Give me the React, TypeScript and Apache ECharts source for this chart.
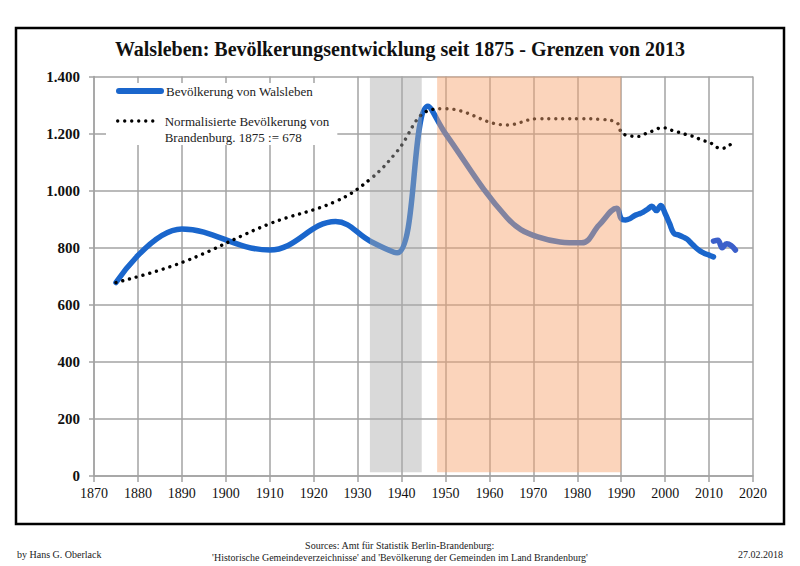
import React, { useEffect, useRef } from "react";
import * as echarts from "echarts";

// Walsleben population (main series, old counts up to 2011)
const popYears = [1875, 1890, 1910, 1925, 1933, 1939, 1946, 1950, 1964, 1971, 1981, 1985, 1989,
  1990, 1991, 1992, 1993, 1994, 1995, 1996, 1997, 1998, 1999, 2000, 2001, 2002, 2003, 2004, 2005,
  2006, 2007, 2008, 2009, 2010, 2011];
const popValues = [678, 866, 792, 892, 822, 782, 1296, 1200, 905, 838, 817, 880, 938,
  902, 897, 902, 912, 918, 925, 935, 945, 930, 948, 920, 885, 850, 845, 838, 830,
  815, 800, 788, 780, 774, 768];

// Walsleben population after the 2011 census
const popYears2 = [2011, 2012, 2013, 2014, 2015, 2016];
const popValues2 = [823, 826, 800, 814, 808, 792];

// Normalised population of Brandenburg (1875 := 678)
const bbYears = [1875, 1890, 1910, 1925, 1933, 1939, 1946, 1950, 1964, 1971, 1981, 1985, 1989,
  1990, 1991, 1992, 1993, 1994, 1995, 1996, 1997, 1998, 1999, 2000, 2001, 2002, 2003, 2004, 2005,
  2006, 2007, 2008, 2009, 2010, 2011, 2012, 2013, 2014, 2015, 2016];
const bbValues = [678, 748, 884, 962, 1042, 1138, 1280, 1287, 1230, 1252, 1252, 1250, 1238,
  1203, 1195, 1192, 1190, 1190, 1196, 1203, 1208, 1215, 1220, 1220, 1214, 1209, 1205, 1200, 1196,
  1192, 1187, 1179, 1174, 1170, 1161, 1150, 1148, 1153, 1163, 1171];

// Shaded eras
const nsEra = [1932.8, 1944.6];
const gdrEra = [1948.1, 1990];

const nameWals = "Bevölkerung von Walsleben";
const nameBB = "Normalisierte Bevölkerung von Brandenburg. 1875 := 678";
const titleText = "Walsleben: Bevölkerungsentwicklung seit 1875 - Grenzen von 2013";
const sourceLine1 = "Sources: Amt für Statistik Berlin-Brandenburg:";
const sourceLine2 = "'Historische Gemeindeverzeichnisse' and 'Bevölkerung der Gemeinden im Land Brandenburg'";
const author = "by Hans G. Oberlack";
const dateText = "27.02.2018";

const FONT = "'Liberation Serif', 'DejaVu Serif', serif";

const zip = (xs: number[], ys: number[]) => xs.map((x, i) => [x, ys[i]]);

const fmtThousands = (v: number) =>
  v >= 1000 ? `${Math.floor(v / 1000)}.${String(v % 1000).padStart(3, "0")}` : String(v);

export default function App() {
  const ref = useRef<HTMLDivElement>(null);

  useEffect(() => {
    if (!ref.current) return;
    const chart = echarts.init(ref.current, undefined, { renderer: "svg" });
    const gridColor = "#a3a3a3";
    const option: any = {
      animation: false,
      backgroundColor: "#ffffff",
      title: {
        text: titleText,
        left: "center",
        top: 34,
        textStyle: { fontFamily: FONT, fontWeight: "bold", fontSize: 20, color: "#111" },
      },
      grid: { left: 94, right: 47, top: 76.5, bottom: 90, containLabel: false },
      legend: [
        {
          data: [nameWals],
          orient: "vertical",
          left: 106,
          top: 83,
          padding: [0, 8, 0, 10],
          itemWidth: 42,
          itemHeight: 16,
          itemGap: 0,
          selectedMode: false,
          backgroundColor: "#ffffff",
          textStyle: { fontFamily: FONT, fontSize: 13, color: "#222", lineHeight: 16 },
          itemStyle: { opacity: 0 },
          lineStyle: { width: 6, cap: "round", color: "#1a66cc", type: "solid" },
        },
        {
          data: [nameBB],
          orient: "vertical",
          left: 106,
          top: 97,
          padding: [0, 8, 0, 10],
          itemWidth: 42,
          itemHeight: 16,
          itemGap: 0,
          selectedMode: false,
          backgroundColor: "#ffffff",
          formatter: () => "\nNormalisierte Bevölkerung von\nBrandenburg. 1875 := 678",
          textStyle: { fontFamily: FONT, fontSize: 13, color: "#222", lineHeight: 16 },
          itemStyle: { opacity: 0 },
          lineStyle: { width: 3.4, cap: "round", color: "#000", type: [0.01, 7] },
        },
      ],
      xAxis: {
        type: "value",
        min: 1870,
        max: 2020,
        interval: 10,
        axisLine: { show: true, lineStyle: { color: gridColor, width: 1.5 } },
        axisTick: { show: true, length: 6, lineStyle: { color: gridColor, width: 1.5 } },
        splitLine: { show: true, lineStyle: { color: gridColor, width: 1.5 } },
        axisLabel: {
          formatter: (v: number) => String(v),
          fontFamily: FONT,
          fontSize: 14,
          color: "#111",
          margin: 10,
        },
      },
      yAxis: {
        type: "value",
        min: 0,
        max: 1400,
        interval: 200,
        axisLine: { show: true, lineStyle: { color: gridColor, width: 1.5 } },
        axisTick: { show: true, length: 5, lineStyle: { color: gridColor, width: 1.5 } },
        splitLine: { show: true, lineStyle: { color: gridColor, width: 1.5 } },
        axisLabel: {
          formatter: fmtThousands,
          fontFamily: FONT,
          fontSize: 15,
          fontWeight: "bold",
          color: "#111",
          margin: 14,
        },
      },
      series: [
        {
          name: nameWals,
          type: "line",
          data: zip(popYears, popValues),
          smooth: 0.4,
          symbol: "none",
          z: 2,
          lineStyle: { color: "#1a66cc", width: 5.5, cap: "round", join: "round" },
          itemStyle: { color: "#1a66cc" },
        },
        {
          name: "Walsleben ab 2011",
          type: "line",
          data: zip(popYears2, popValues2),
          smooth: 0.4,
          symbol: "none",
          z: 2,
          lineStyle: { color: "#3b5fca", width: 5.5, cap: "round", join: "round" },
          itemStyle: { color: "#3b5fca" },
        },
        {
          name: nameBB,
          type: "line",
          data: zip(bbYears, bbValues),
          smooth: 0.4,
          symbol: "none",
          z: 3,
          lineStyle: { color: "#000", width: 3.4, cap: "round", type: [0.01, 7] },
          itemStyle: { color: "#000" },
        },
        {
          name: "Epochen",
          type: "line",
          data: [],
          z: 10,
          silent: true,
          clip: false,
          markArea: {
            silent: true,
            z: 10,
            data: [
              [
                { xAxis: nsEra[0], yAxis: 13, itemStyle: { color: "rgba(171,171,171,0.45)" } },
                { xAxis: nsEra[1], yAxis: 1400 },
              ],
              [
                { xAxis: gdrEra[0], yAxis: 13, itemStyle: { color: "rgba(246,163,110,0.47)" } },
                { xAxis: gdrEra[1], yAxis: 1410 },
              ],
            ],
          },
        },
      ],
      graphic: [
        {
          type: "rect",
          shape: { x: 16, y: 28, width: 768, height: 496 },
          style: { fill: "none", stroke: "#000", lineWidth: 2.5 },
          silent: true,
          z: 100,
        },
        {
          type: "text",
          left: 17,
          top: 549,
          style: { text: author, font: `10px ${FONT}`, fill: "#222" },
        },
        {
          type: "text",
          right: 17,
          top: 549,
          style: { text: dateText, font: `10px ${FONT}`, fill: "#222" },
        },
        {
          type: "text",
          left: "center",
          top: 540,
          style: { text: sourceLine1, font: `10px ${FONT}`, fill: "#222", align: "center" },
        },
        {
          type: "text",
          left: "center",
          top: 552,
          style: { text: sourceLine2, font: `10px ${FONT}`, fill: "#222", align: "center" },
        },
      ],
    };
    chart.setOption(option);
    return () => chart.dispose();
  }, []);

  return (
    <div
      ref={ref}
      style={{ position: "absolute", left: 0, top: 0, width: 800, height: 566, background: "#fff" }}
    />
  );
}
